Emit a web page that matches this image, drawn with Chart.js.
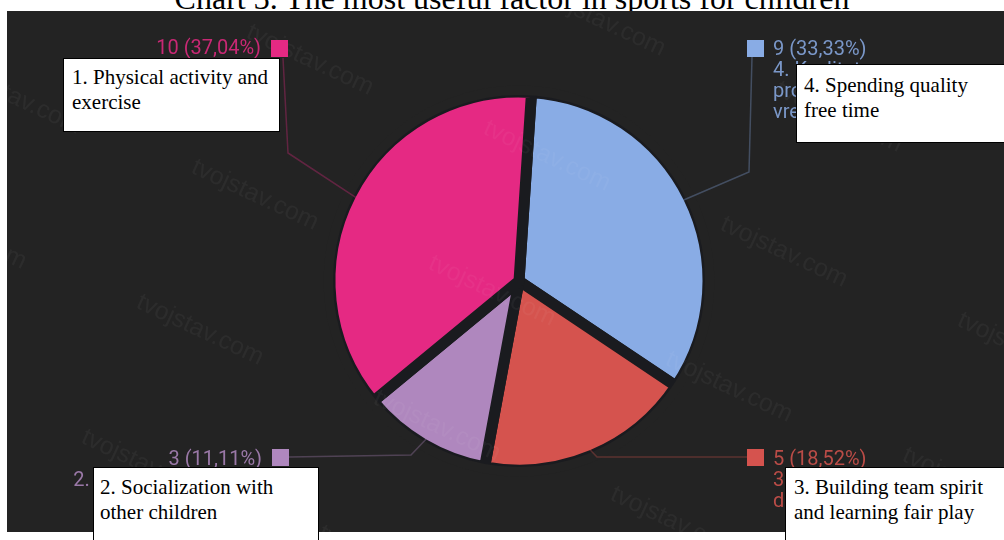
<!DOCTYPE html>
<html>
<head>
<meta charset="utf-8">
<script src="https://cdn.jsdelivr.net/npm/chart.js@4.4.1/dist/chart.umd.min.js"></script>
<style>
  html, body { margin: 0; padding: 0; background: #fff; overflow: hidden; }
  #wrap { position: relative; width: 1004px; height: 540px; overflow: hidden; }
  #title {
    position: absolute; left: 10px; top: -18px; width: 1004px;
    text-align: center; white-space: nowrap; color: #000;
    font: 32px/32px "Liberation Serif", "Times New Roman", serif;
  }
  #pie { position: absolute; left: 0; top: 0; }
  .note {
    position: absolute; box-sizing: border-box; background: #fff;
    border: 1px solid #000; color: #000; white-space: nowrap;
    font: 21px/25px "Liberation Serif", "Times New Roman", serif;
  }
</style>
</head>
<body>
<div id="wrap">
  <div id="title">Chart 3. The most useful factor in sports for children</div>
  <canvas id="pie" width="1004" height="540"></canvas>
  <div class="note" id="note0" style="left:63px;top:58px;width:217px;height:74px;padding:6px 0 0 8px"></div>
  <div class="note" id="note1" style="left:93px;top:467px;width:226px;height:90px;padding:7px 0 0 6px"></div>
  <div class="note" id="note2" style="left:785px;top:467px;width:240px;height:90px;padding:7px 0 0 8px"></div>
  <div class="note" id="note3" style="left:796px;top:64px;width:230px;height:79px;padding:8px 0 0 7px"></div>
</div>
<script>
/* --- Data --- */
const CATEGORY_LINES = [
  ['1. Fizička aktivnost i', 'vežbanje'],
  ['2. Druženje s drugom', 'decom'],
  ['3. Izgradnja timskog', 'duha i učenje fer-pleja'],
  ['4. Kvalitetno', 'provedeno slobodno', 'vreme']
];
const NOTE_LINES = [
  ['1. Physical activity and', 'exercise'],
  ['2. Socialization with', 'other children'],
  ['3. Building team spirit', 'and learning fair play'],
  ['4. Spending quality', 'free time']
];
const RESPONSES = [10, 3, 5, 9];

/* --- Theme --- */
const SLICE_COLORS = ['#E52983', '#AF87BE', '#D5534E', '#89ACE5'];
const PANEL_BG = '#232323';
const GAP_COLOR = '#1a1b1f';
const GAP_WIDTH = 11;
const RIM_WIDTH = 2.5;

// label anchors: square marker, text anchor, bend of the leader line, line end
const LABEL_LAYOUT = [
  { align: 'right', mark: [271, 40], textX: 261, baseline: 54,  bend: [288, 153], end: [283, 58] },
  { align: 'right', mark: [272, 449], textX: 262, baseline: 465, bend: [411, 455], end: [289, 457] },
  { align: 'left',  mark: [747, 449], textX: 773, baseline: 465, bend: [597, 457], end: [747, 457] },
  { align: 'left',  mark: [747, 40],  textX: 773, baseline: 55,  bend: [749, 172], end: [752, 57] }
];

/* --- Notes (boxed English captions) --- */
NOTE_LINES.forEach((lines, i) => {
  const el = document.getElementById('note' + i);
  lines.forEach((line, j) => {
    if (j) el.appendChild(document.createElement('br'));
    el.appendChild(document.createTextNode(line));
  });
});

/* --- Helpers --- */
const total = RESPONSES.reduce((a, b) => a + b, 0);
function shareText(v) {
  return v + ' (' + (v / total * 100).toFixed(2).replace('.', ',') + '%)';
}

function hexAlpha(hex, a) {
  const n = parseInt(hex.slice(1), 16);
  return 'rgba(' + (n >> 16) + ',' + ((n >> 8) & 255) + ',' + (n & 255) + ',' + a + ')';
}

// slices run counter-clockwise from the top, so feed them reversed
const order = RESPONSES.map((_, i) => RESPONSES.length - 1 - i);

/* --- Plugins --- */
const panel = {
  id: 'panel',
  beforeDraw(chart) {
    const ctx = chart.ctx;
    ctx.save();
    ctx.fillStyle = PANEL_BG;
    ctx.fillRect(7, 11, chart.width - 7, 521);
    ctx.restore();
  }
};

// the slice border doubles as the gap; trim its outer half down to a thin rim
const rim = {
  id: 'rim',
  afterDatasetsDraw(chart) {
    const arc = chart.getDatasetMeta(0).data[0];
    if (!arc) return;
    const p = arc.getProps(['x', 'y', 'outerRadius'], true);
    const inner = p.outerRadius - GAP_WIDTH / 2 + RIM_WIDTH;
    const outer = p.outerRadius + GAP_WIDTH / 2 + 1;
    const ctx = chart.ctx;
    ctx.save();
    ctx.strokeStyle = PANEL_BG;
    ctx.lineWidth = outer - inner;
    ctx.beginPath();
    ctx.arc(p.x, p.y, (inner + outer) / 2, 0, Math.PI * 2);
    ctx.stroke();
    ctx.restore();
  }
};

const watermark = {
  id: 'watermark',
  afterDatasetsDraw(chart) {
    const ctx = chart.ctx;
    ctx.save();
    ctx.beginPath();
    ctx.rect(7, 11, chart.width - 7, 521);
    ctx.clip();
    ctx.font = '25px "Liberation Sans", Arial, sans-serif';
    ctx.fillStyle = 'rgba(255, 255, 255, 0.045)';
    ctx.textAlign = 'center';
    ctx.textBaseline = 'middle';
    for (let k = -1; k <= 3; k++) {
      for (let j = -1; j <= 5; j++) {
        const x = 310 - 55 * k + 237 * j;
        const y = 60 + 135 * k + 96 * j;
        if (x < -120 || x > 1130 || y < -60 || y > 600) continue;
        ctx.save();
        ctx.translate(x, y);
        ctx.rotate(25 * Math.PI / 180);
        ctx.fillText('tvojstav.com', 0, 0);
        ctx.restore();
      }
    }
    ctx.restore();
  }
};

const sliceLabels = {
  id: 'sliceLabels',
  afterDraw(chart) {
    const ctx = chart.ctx;
    const meta = chart.getDatasetMeta(0);
    ctx.save();
    RESPONSES.forEach((v, c) => {
      const arc = meta.data[order.indexOf(c)];
      const p = arc.getProps(['x', 'y', 'startAngle', 'endAngle', 'outerRadius'], true);
      const mid = (p.startAngle + p.endAngle) / 2;
      const r = p.outerRadius - GAP_WIDTH / 2;
      const L = LABEL_LAYOUT[c];
      const color = SLICE_COLORS[c];

      // leader line
      ctx.strokeStyle = hexAlpha(color, 0.32);
      ctx.lineWidth = 1.5;
      ctx.beginPath();
      ctx.moveTo(p.x + r * Math.cos(mid), p.y + r * Math.sin(mid));
      ctx.lineTo(L.bend[0], L.bend[1]);
      ctx.lineTo(L.end[0], L.end[1]);
      ctx.stroke();

      // marker
      ctx.fillStyle = color;
      ctx.fillRect(L.mark[0], L.mark[1], 17, 17);

      // value and category text
      ctx.fillStyle = hexAlpha(color, 0.85);
      ctx.font = '20px Roboto, "Open Sans", sans-serif';
      ctx.textAlign = L.align;
      ctx.textBaseline = 'alphabetic';
      const lines = [shareText(v)].concat(CATEGORY_LINES[c]);
      lines.forEach((line, j) => ctx.fillText(line, L.textX, L.baseline + j * 21));
    });
    ctx.restore();
  }
};

/* --- Chart --- */
new Chart(document.getElementById('pie'), {
  type: 'pie',
  data: {
    labels: order.map(i => CATEGORY_LINES[i].join(' ')),
    datasets: [{
      data: order.map(i => RESPONSES[i]),
      backgroundColor: order.map(i => SLICE_COLORS[i]),
      borderColor: GAP_COLOR,
      borderWidth: GAP_WIDTH
    }]
  },
  options: {
    responsive: false,
    animation: false,
    events: [],
    rotation: 3.8,
    radius: 189,
    layout: { padding: { left: 34, top: 22, right: 0, bottom: 0 } },
    plugins: {
      legend: { display: false },
      title: { display: false },
      tooltip: { enabled: false }
    }
  },
  plugins: [panel, rim, watermark, sliceLabels]
});
</script>
</body>
</html>
